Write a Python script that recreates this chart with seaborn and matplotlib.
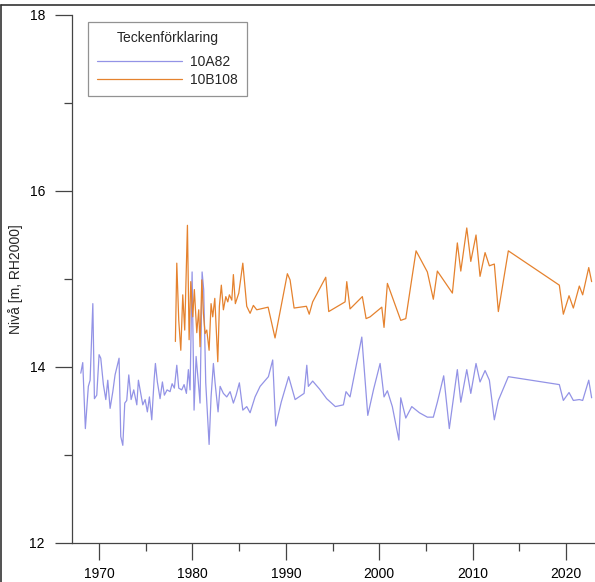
import pandas as pd
import matplotlib
matplotlib.use("Agg")
import matplotlib.pyplot as plt
from matplotlib.lines import Line2D
from matplotlib.ticker import MultipleLocator
import seaborn as sns

# Data
years_10a82 = [
    1968.04, 1968.25, 1968.53, 1968.85, 1969.04, 1969.33, 1969.50, 1969.75, 1970.00, 1970.18,
    1970.46, 1970.72, 1970.93, 1971.18, 1971.47, 1971.71, 1972.14, 1972.32, 1972.54, 1972.75,
    1972.96, 1973.18, 1973.43, 1973.71, 1974.04, 1974.21, 1974.46, 1974.68, 1974.93, 1975.17,
    1975.39, 1975.64, 1975.89, 1976.03, 1976.24, 1976.53, 1976.78, 1976.99, 1977.28, 1977.60,
    1977.82, 1978.06, 1978.32, 1978.53, 1978.85, 1979.10, 1979.35, 1979.56, 1979.74, 1979.96,
    1980.17, 1980.39, 1980.63, 1980.81, 1981.03, 1981.20, 1981.42, 1981.60, 1981.78, 1981.99,
    1982.24, 1982.42, 1982.74, 1982.96, 1983.31, 1983.67, 1984.03, 1984.38, 1984.67, 1985.02,
    1985.39, 1985.81, 1986.17, 1986.70, 1987.24, 1988.13, 1988.59, 1988.91, 1989.50, 1990.30,
    1990.99, 1991.95, 1992.24, 1992.41, 1992.87, 1993.60, 1994.37, 1995.30, 1996.16, 1996.44,
    1996.87, 1998.13, 1998.77, 1999.40, 2000.09, 2000.51, 2000.87, 2001.40, 2002.10, 2002.30,
    2002.84, 2003.48, 2004.30, 2005.15, 2005.79, 2006.22, 2006.90, 2007.50, 2008.36, 2008.73,
    2009.37, 2009.80, 2010.36, 2010.79, 2011.33, 2011.79, 2012.32, 2012.75, 2013.82, 2019.28,
    2019.71, 2020.32, 2020.78, 2021.42, 2021.78, 2022.43, 2022.74,
]
level_10a82 = [
    13.93, 14.05, 13.30, 13.78, 13.85, 14.72, 13.64, 13.68, 14.14, 14.10,
    13.80, 13.63, 13.85, 13.53, 13.72, 13.91, 14.10, 13.21, 13.11, 13.59,
    13.62, 13.91, 13.63, 13.74, 13.57, 13.85, 13.70, 13.57, 13.63, 13.49,
    13.66, 13.40, 13.85, 14.04, 13.83, 13.64, 13.83, 13.68, 13.74, 13.72,
    13.81, 13.76, 14.02, 13.76, 13.74, 13.80, 13.70, 13.97, 13.74, 15.08,
    13.51, 14.12, 13.82, 13.59, 15.08, 14.88, 13.82, 13.47, 13.12, 13.66,
    14.04, 13.82, 13.49, 13.78, 13.70, 13.66, 13.72, 13.59, 13.68, 13.82,
    13.51, 13.55, 13.48, 13.66, 13.78, 13.89, 14.08, 13.33, 13.60, 13.89,
    13.63, 13.70, 14.02, 13.78, 13.84, 13.75, 13.64, 13.55, 13.57, 13.72,
    13.66, 14.34, 13.45, 13.75, 14.04, 13.66, 13.73, 13.55, 13.17, 13.65,
    13.42, 13.55, 13.48, 13.43, 13.43, 13.60, 13.90, 13.30, 13.97, 13.60,
    13.97, 13.70, 14.04, 13.83, 13.96, 13.85, 13.40, 13.62, 13.89, 13.80,
    13.62, 13.71, 13.62, 13.63, 13.62, 13.85, 13.65,
]

years_10b108 = [
    1978.17, 1978.32, 1978.53, 1978.75, 1978.96, 1979.17, 1979.46, 1979.64, 1979.82, 1980.03,
    1980.20, 1980.46, 1980.67, 1980.81, 1981.00, 1981.17, 1981.35, 1981.53, 1981.78, 1981.99,
    1982.17, 1982.39, 1982.71, 1982.88, 1983.09, 1983.31, 1983.57, 1983.78, 1983.95, 1984.21,
    1984.38, 1984.59, 1984.96, 1985.39, 1985.81, 1986.17, 1986.52, 1986.88, 1988.10, 1988.84,
    1990.16, 1990.45, 1990.88, 1992.20, 1992.50, 1992.87, 1994.27, 1994.59, 1996.34, 1996.52,
    1996.87, 1998.19, 1998.59, 1999.02, 2000.27, 2000.51, 2000.87, 2002.30, 2002.84, 2003.48,
    2003.94, 2005.15, 2005.79, 2006.22, 2007.83, 2008.36, 2008.73, 2009.37, 2009.80, 2010.36,
    2010.79, 2011.33, 2011.79, 2012.32, 2012.75, 2013.82, 2019.28, 2019.71, 2020.32, 2020.78,
    2021.42, 2021.78, 2022.43, 2022.74,
]
level_10b108 = [
    14.29, 15.18, 14.53, 14.19, 14.82, 14.42, 15.61, 14.31, 14.97, 14.57,
    14.88, 14.39, 14.65, 14.23, 14.99, 14.61, 14.38, 14.42, 14.19, 14.72,
    14.57, 14.78, 14.06, 14.69, 14.93, 14.65, 14.80, 14.74, 14.82, 14.76,
    15.05, 14.72, 14.84, 15.18, 14.69, 14.61, 14.70, 14.65, 14.68, 14.33,
    15.06, 14.99, 14.67, 14.69, 14.60, 14.74, 15.02, 14.63, 14.74, 14.97,
    14.66, 14.80, 14.55, 14.57, 14.68, 14.45, 14.95, 14.53, 14.55, 15.00,
    15.32, 15.08, 14.77, 15.09, 14.84, 15.41, 15.09, 15.58, 15.20, 15.50,
    15.03, 15.30, 15.15, 15.17, 14.63, 15.32, 14.93, 14.60, 14.81, 14.67,
    14.92, 14.82, 15.13, 14.97,
]

series_names = ["10A82", "10B108"]
colors = {"10A82": "#9393e6", "10B108": "#e5822e"}

df = pd.concat([
    pd.DataFrame({"year": years_10a82, "level": level_10a82, "serie": "10A82"}),
    pd.DataFrame({"year": years_10b108, "level": level_10b108, "serie": "10B108"}),
])

sns.set_style("ticks")
plt.rcParams["font.family"] = ["Liberation Sans", "DejaVu Sans"]
plt.rcParams["font.size"] = 10

fig = plt.figure(figsize=(5.95, 5.82), dpi=100)
ax = fig.add_axes([72 / 595, 1 - 543 / 582, 1 - 72 / 595, 528 / 582])

sns.lineplot(data=df, x="year", y="level", hue="serie", palette=colors,
             estimator=None, sort=False, linewidth=0.9, legend=False, ax=ax)

ax.set_xlim(1967.1, 2023.1)
ax.set_ylim(12, 18)
ax.xaxis.set_major_locator(MultipleLocator(10))
ax.xaxis.set_minor_locator(MultipleLocator(5))
ax.yaxis.set_major_locator(MultipleLocator(2))
ax.yaxis.set_minor_locator(MultipleLocator(1))
ax.tick_params(which="major", length=12.5, width=0.9, color="#444444", labelsize=10, labelcolor="black")
ax.tick_params(which="minor", length=6, width=0.9, color="#444444")
ax.tick_params(axis="x", which="major", pad=5)
ax.tick_params(axis="y", which="major", pad=7)
for side in ["top", "right"]:
    ax.spines[side].set_visible(False)
for side in ["left", "bottom"]:
    ax.spines[side].set_color("#444444")
    ax.spines[side].set_linewidth(0.9)
ax.set_xlabel("")
ax.set_ylabel("Nivå [m, RH2000]", fontsize=10)
ax.yaxis.set_label_coords(-0.094, 0.5)

handles = [Line2D([], [], color=colors[n], linewidth=0.9) for n in series_names]
leg = ax.legend(handles, series_names, title="Teckenförklaring", loc="upper left",
                bbox_to_anchor=(0.031, 0.987), borderaxespad=0, fancybox=False,
                handlelength=6.1, handletextpad=0.6, labelspacing=0.3,
                fontsize=10, title_fontsize=10, borderpad=0.65)
leg.get_frame().set_edgecolor("#777777")
leg.get_frame().set_linewidth(0.9)
leg._legend_box.sep = 7

# thin frame round the figure (left and top edges visible in the reference)
fig.add_artist(Line2D([0.002, 0.002], [0, 1 - 5 / 582], transform=fig.transFigure,
                      color="#333333", linewidth=1.2))
fig.add_artist(Line2D([0.002, 1], [1 - 5 / 582, 1 - 5 / 582], transform=fig.transFigure,
                      color="#333333", linewidth=1.2))

fig.savefig("out.png", dpi=100)
